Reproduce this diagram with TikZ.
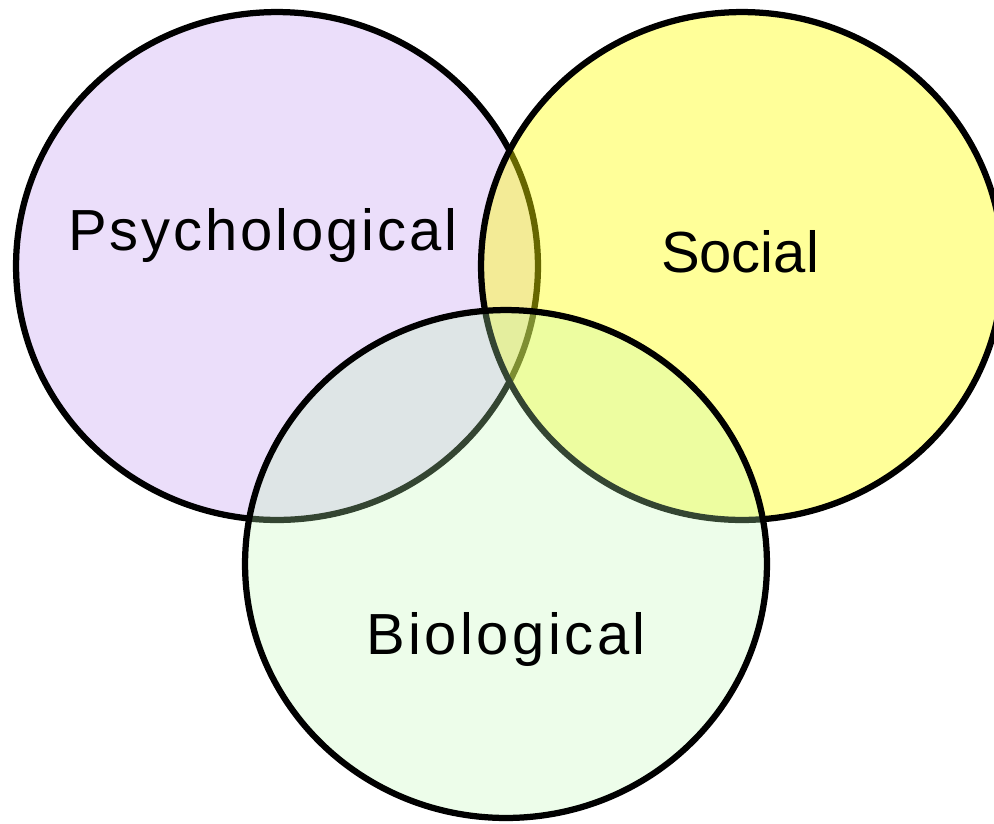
\documentclass[tikz,border=0pt]{standalone}
\usepackage{fontspec}
\setmainfont{Liberation Sans}
\usetikzlibrary{shapes.geometric}
\definecolor{psycol}{RGB}{235,222,250}
\definecolor{soccol}{RGB}{255,255,0}
\definecolor{biocol}{RGB}{190,248,180}

\begin{document}
\begin{tikzpicture}[x=0.02cm, y=-0.02cm,
    sphere/.style={ellipse, draw, line width=0.125cm, minimum width=10.44cm, minimum height=10.16cm, inner sep=0pt},
    word/.style={anchor=base, inner sep=0pt, font=\fontsize{33pt}{36pt}\selectfont}]
    \useasboundingbox (0,0) rectangle (994,823);

    % the three spheres
    \node[sphere, fill=psycol] (psy) at (277,266) {};
    \node[sphere, fill=soccol, fill opacity=0.4] (soc) at (742,266) {};
    \node[sphere, fill=biocol, fill opacity=0.28] (bio) at (506,564) {};

    % labels
    \node[word] (psylabel) at (263,250) {\addfontfeature{LetterSpace=5}Psychological};
    \node[word] (soclabel) at (740,272) {Social};
    \node[word] (biolabel) at (506,654) {\addfontfeature{LetterSpace=6}Biological};
  \end{tikzpicture}
\end{document}
